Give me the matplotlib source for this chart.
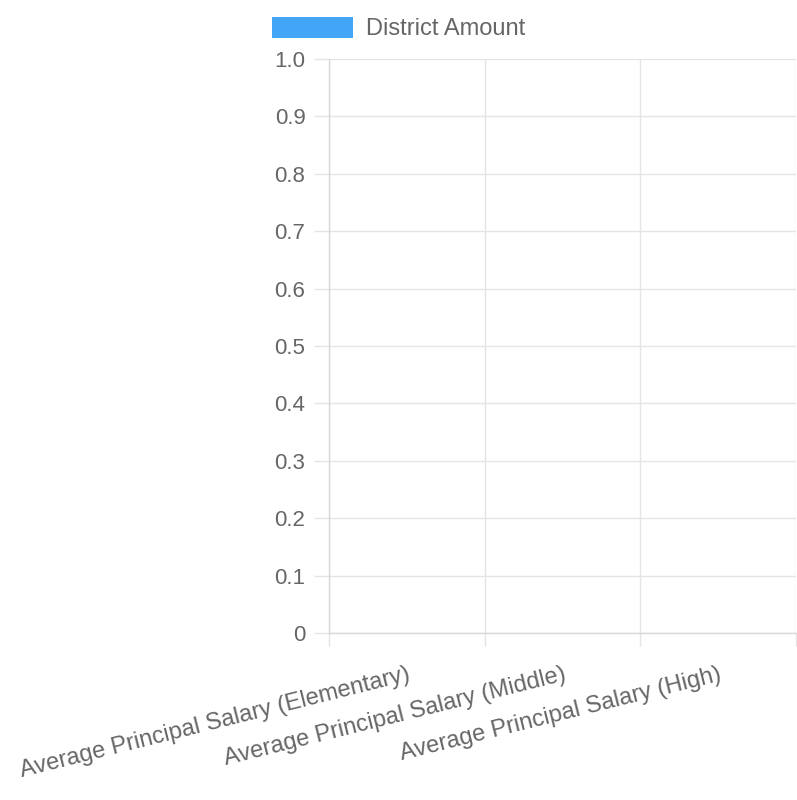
#!/usr/bin/env python3
"""Empty district bar chart (Chart.js look) - principal salaries."""
import matplotlib
matplotlib.use("Agg")
import matplotlib.pyplot as plt
import numpy as np

# chart data
categories = [
    "Average Principal Salary (Elementary)",
    "Average Principal Salary (Middle)",
    "Average Principal Salary (High)",
]
district_amount = [np.nan, np.nan, np.nan]  # no values reported
series_label = "District Amount"
y_ticks = [0, 0.1, 0.2, 0.3, 0.4, 0.5, 0.6, 0.7, 0.8, 0.9, 1.0]
y_tick_labels = ["0", "0.1", "0.2", "0.3", "0.4", "0.5", "0.6", "0.7", "0.8", "0.9", "1.0"]

BAR_COLOR = "#42a5f5"
TEXT_COLOR = "#666666"
GRID_COLOR = "#e5e5e5"

plt.rcParams["font.family"] = ["Liberation Sans", "DejaVu Sans"]

W, H = 797, 800
fig = plt.figure(figsize=(W / 100, H / 100), dpi=100)
left, right, top, bottom = 329, 796, 59, 633
ax = fig.add_axes([left / W, 1 - bottom / H, (right - left) / W, (bottom - top) / H])

x = np.arange(len(categories))
bars = ax.bar(x, district_amount, width=0.8, color=BAR_COLOR, label=series_label)

ax.set_xlim(-0.5, len(categories) - 0.5)
ax.set_ylim(0, 1.0)

# y axis
ax.set_yticks(y_ticks)
ax.set_yticklabels(y_tick_labels)
ax.tick_params(axis="y", length=11, width=1, color=GRID_COLOR, pad=6,
               labelsize=16, labelcolor=TEXT_COLOR)

# x axis: labels at category centers, grid on category boundaries
ax.set_xticks(x)
ax.set_xticklabels(categories, rotation=14, ha="right", va="top",
                   rotation_mode="anchor")
ax.set_xticks(np.arange(len(categories) + 1) - 0.5, minor=True)
ax.tick_params(axis="x", which="major", length=0, pad=22,
               labelsize=17, labelcolor=TEXT_COLOR)
ax.tick_params(axis="x", which="minor", length=9, width=1, color=GRID_COLOR)

ax.grid(True, axis="y", which="major", color=GRID_COLOR, linewidth=1)
ax.grid(True, axis="x", which="minor", color=GRID_COLOR, linewidth=1)
ax.set_axisbelow(True)

for side in ("top", "right"):
    ax.spines[side].set_visible(False)
for side in ("left", "bottom"):
    ax.spines[side].set_color("#d9d9d9")
    ax.spines[side].set_linewidth(1)

leg = fig.legend(handles=[bars], labels=[series_label], loc="upper center",
                 bbox_to_anchor=(0.5, 1.0), frameon=False, fontsize=17,
                 handlelength=3.4, handleheight=1.0, handletextpad=0.55,
                 borderaxespad=0.3)
for t in leg.get_texts():
    t.set_color(TEXT_COLOR)

fig.savefig("out.png", dpi=100)
